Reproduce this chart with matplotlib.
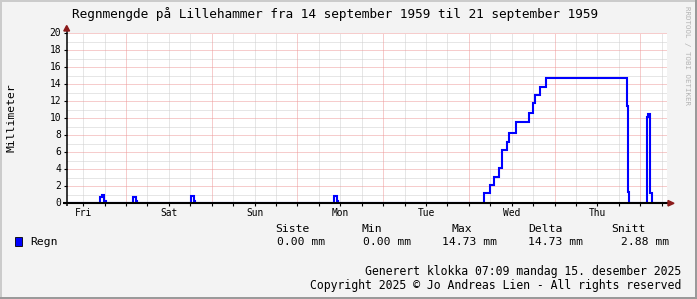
import matplotlib
matplotlib.use('Agg')
import matplotlib.pyplot as plt
from matplotlib.patches import Rectangle, Polygon
from matplotlib.lines import Line2D

# ---------------- data ----------------
title = "Regnmengde på Lillehammer fra 14 september 1959 til 21 september 1959"
ylabel = "Millimeter"
day_labels = ["Fri", "Sat", "Sun", "Mon", "Tue", "Wed", "Thu"]
day_label_hours = [12, 36, 60, 84, 108, 132, 156]   # hours since Friday 00:00
t_start, t_end = 7.4, 175.4
y_ticks = [0, 2, 4, 6, 8, 10, 12, 14, 16, 18, 20]

rain_hours = [7.4, 16.81, 17.37, 17.98, 18.54, 26.05, 26.75, 27.17,
              42.29, 42.99, 43.46, 82.3, 83.0, 83.45,
              124.33, 125.93, 127.13, 128.36, 129.37, 130.6, 131.33, 133.29,
              136.76, 137.88, 138.53, 139.93, 141.6,
              164.2, 164.48, 164.93, 169.8, 170.17, 170.73, 171.29, 175.4]
rain_mm = [0, 0.75, 1.0, 0.3, 0, 0.8, 0.3, 0,
           0.85, 0.3, 0, 0.9, 0.3, 0,
           1.2, 2.15, 3.1, 4.2, 6.3, 7.25, 8.3, 9.6,
           10.6, 11.8, 12.8, 13.7, 14.73,
           11.4, 1.3, 0, 10.2, 10.5, 1.2, 0, 0]

series_name = "Regn"
stat_names = ["Siste", "Min", "Max", "Delta", "Snitt"]
stat_values = ["0.00 mm", "0.00 mm", "14.73 mm", "14.73 mm", "2.88 mm"]
footer_lines = ["Generert klokka 07:09 mandag 15. desember 2025",
                "Copyright 2025 \u00a9 Jo Andreas Lien - All rights reserved"]
side_text = "RRDTOOL / TOBI OETIKER"

# ---------------- layout ----------------
W, H = 697, 299
FONT = "DejaVu Sans Mono"
BG = "#F3F3F3"
fig = plt.figure(figsize=(W / 100, H / 100), dpi=100, facecolor=BG)

def fx(x):
    return x / W

def fy(y):
    return 1 - y / H

L, R, T, B = 66.7, 666.7, 33.3, 203.3
ax = fig.add_axes([fx(L), fy(B), (R - L) / W, (B - T) / H])
ax.set_facecolor("white")
ax.set_xlim(t_start, t_end)
ax.set_ylim(0, 20)
for s in ax.spines.values():
    s.set_visible(False)
ax.set_xticks([])
ax.set_yticks([])

dot = (0, (1, 1))
lw1 = 0.72
minor_c = "#CFCFCF"
major_c = "#EE9A9A"
for v in range(1, 20, 2):
    ax.axhline(v, color=minor_c, lw=lw1, ls=dot, zorder=1)
for v in range(2, 21, 2):
    ax.axhline(v, color=major_c, lw=lw1, ls=dot, zorder=1.1)
h = 0
while h <= t_end:
    if h >= t_start:
        if h % 24 == 0:
            ax.axvline(h, color=major_c, lw=lw1, ls=dot, zorder=1.1)
        else:
            ax.axvline(h, color=minor_c, lw=lw1, ls=dot, zorder=1)
    h += 6

ax.plot(rain_hours, rain_mm, drawstyle="steps-post", color="#0000FF",
        lw=1.5, zorder=3, clip_on=True, solid_joinstyle="miter")

# axes lines (figure pixel coords)
def fline(x0, y0, x1, y1, color="black", lw=1.0):
    fig.add_artist(Line2D([fx(x0), fx(x1)], [fy(y0), fy(y1)], color=color,
                          lw=lw, transform=fig.transFigure, zorder=5,
                          solid_capstyle="butt"))

fline(63, B - 0.3, 668.5, B - 0.3, lw=1.5)
fline(L, 206, L, 30, lw=1.1)
for v in y_ticks:
    yp = B - v * (B - T) / 20
    fline(L - 2.5, yp, L, yp, lw=0.8)
h = 0
while h <= t_end:
    if h >= t_start:
        xp = L + (h - t_start) * (R - L) / (t_end - t_start)
        fline(xp, B, xp, B + 2.5, lw=0.8)
    h += 6

arrow_c = "#8B1A1A"
fig.add_artist(Polygon([[fx(668), fy(200.5)], [fx(674), fy(B)], [fx(668), fy(206)]],
                       closed=True, color=arrow_c, transform=fig.transFigure, zorder=6))
fig.add_artist(Polygon([[fx(63.8), fy(31)], [fx(L), fy(25.5)], [fx(69.6), fy(31)]],
                       closed=True, color=arrow_c, transform=fig.transFigure, zorder=6))

# tick labels
for v in y_ticks:
    yp = B - v * (B - T) / 20
    fig.text(fx(61), fy(yp), str(v), ha="right", va="center", fontsize=6.9,
             family=FONT, color="black")
for lab, hh in zip(day_labels, day_label_hours):
    xp = L + (hh - t_start) * (R - L) / (t_end - t_start)
    fig.text(fx(xp), fy(213.5), lab, ha="center", va="center", fontsize=6.9,
             family=FONT, color="black")

# title and labels
fig.text(fx(335), fy(14), title, ha="center", va="center", fontsize=9.2,
         family=FONT, color="black")
fig.text(fx(11.5), fy(118), ylabel, ha="center", va="center", rotation=90,
         fontsize=8.2, family=FONT, color="black")
fig.text(fx(687.5), fy(56), side_text, ha="center", va="center", rotation=270,
         fontsize=5.4, family=FONT, color="#B4B4B4")

# legend
fig.add_artist(Rectangle((fx(15), fy(246)), 7 / W, 9 / H, facecolor="#0000FF",
                         edgecolor="black", lw=0.6, transform=fig.transFigure))
fig.text(fx(30), fy(242), series_name, ha="left", va="center", fontsize=8.2,
         family=FONT, color="black")
name_x = [275, 361, 451, 528, 611]
val_right = [325, 411, 497, 583, 669]
for nm, nx in zip(stat_names, name_x):
    fig.text(fx(nx), fy(229), nm, ha="left", va="center", fontsize=8.2,
             family=FONT, color="black")
for vl, vx in zip(stat_values, val_right):
    fig.text(fx(vx), fy(242), vl, ha="right", va="center", fontsize=8.2,
             family=FONT, color="black")
fig.text(fx(681), fy(271), footer_lines[0], ha="right", va="center",
         fontsize=8.3, family=FONT, color="black")
fig.text(fx(681), fy(285), footer_lines[1], ha="right", va="center",
         fontsize=8.3, family=FONT, color="black")

# frame shading
fig.add_artist(Rectangle((0, 0), 2 / W, 1, facecolor="#CBCBCB", edgecolor="none",
                         transform=fig.transFigure, zorder=7))
fig.add_artist(Rectangle((0, 1 - 2 / H), 1, 2 / H, facecolor="#CBCBCB", edgecolor="none",
                         transform=fig.transFigure, zorder=7))
fig.add_artist(Rectangle((1 - 2 / W, 0), 2 / W, 1, facecolor="#9A9A9A", edgecolor="none",
                         transform=fig.transFigure, zorder=8))
fig.add_artist(Rectangle((0, 0), 1, 2 / H, facecolor="#9A9A9A", edgecolor="none",
                         transform=fig.transFigure, zorder=8))

fig.savefig("out.png", dpi=100, facecolor=BG)
